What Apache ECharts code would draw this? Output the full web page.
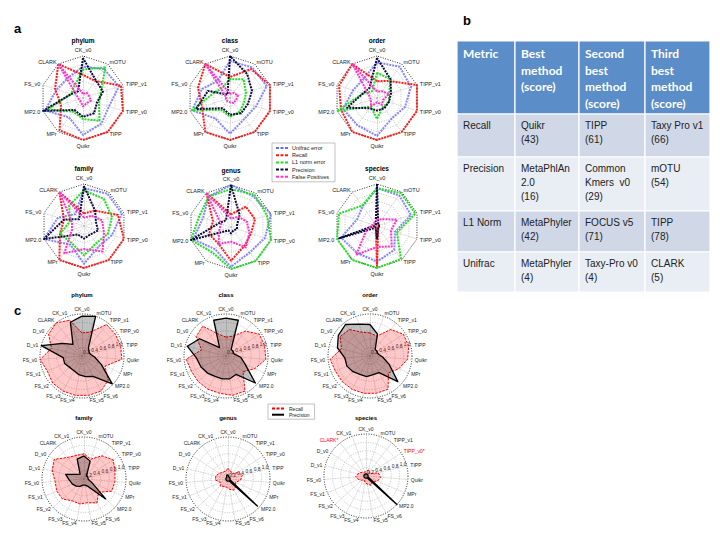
<!DOCTYPE html>
<html><head><meta charset="utf-8">
<script src="https://cdn.jsdelivr.net/npm/echarts@6/dist/echarts.min.js"></script>
<style>html,body{margin:0;padding:0;background:#fff}#chart{width:720px;height:540px}</style>
</head><body><div id="chart"></div>
<script>
// ---------------- DATA ----------------
const ranks = ['phylum','class','order','family','genus','species'];

// Panel a: axes listed clockwise from the top
const axesA = ['CK_v0','mOTU','TIPP_v1','TIPP_v0','TIPP','Quikr','MPr','MP2.0','FS_v0','CLARK'];
const metricNamesA = ['Unifrac error','Recall','L1 norm error','Precision','False Positives'];
const metricColorsA = ['#6666ff','#ff1a1a','#22dd22','#0a0a3c','#ff33cc'];

// one row per rank (phylum..species), values per axis in axesA order
const unifracErr = [
  [0.75,0.85,0.90,0.65,0.75,0.88,0.57,0.95,0.66,0.60],
  [0.88,0.90,0.92,0.65,0.60,0.85,0.60,0.95,0.70,0.50],
  [0.85,0.92,0.85,0.70,0.60,0.90,0.80,0.85,0.60,0.55],
  [0.90,0.95,0.95,0.70,0.60,0.90,0.55,1.00,0.65,0.35],
  [1.00,0.90,1.00,0.85,0.75,0.95,0.65,0.95,0.70,0.90],
  [0.90,0.90,0.85,0.45,0.70,0.85,0.80,0.90,0.50,0.58]
];
const recallA = [
  [0.55,0.50,0.95,1.00,1.00,1.00,0.95,0.55,0.70,1.00],
  [0.50,0.85,1.00,1.00,1.00,1.00,1.00,0.70,0.80,1.00],
  [0.40,0.50,1.00,1.00,1.00,1.00,1.00,0.90,0.95,1.00],
  [0.30,0.45,0.85,1.00,1.00,1.00,1.00,0.60,0.50,1.00],
  [0.30,0.60,0.60,0.50,0.55,0.80,0.50,0.55,0.45,1.00],
  [0.05,0.05,0.05,0.05,0.05,0.95,0.05,0.05,0.05,0.05]
];
const l1NormErr = [
  [0.68,0.90,0.45,0.40,0.67,0.50,0.40,0.90,0.30,0.35],
  [0.45,0.55,0.40,0.35,0.40,0.45,0.35,0.95,0.40,0.30],
  [0.60,0.55,0.30,0.30,0.25,0.50,0.25,1.00,0.35,0.20],
  [0.85,0.80,0.70,0.60,0.50,0.70,0.50,0.60,0.35,0.60],
  [0.90,0.95,0.90,1.00,1.00,1.00,0.75,1.00,0.80,0.90],
  [0.90,0.97,0.96,0.50,0.97,1.00,1.00,1.00,0.95,0.60]
];
const precisionA = [
  [0.95,0.52,0.50,0.35,0.45,0.45,0.35,1.00,0.30,0.20],
  [1.00,0.70,0.55,0.45,0.45,0.40,0.30,0.85,0.55,0.10],
  [0.95,0.55,0.35,0.30,0.30,0.30,0.30,0.75,0.35,0.30],
  [0.95,0.45,0.30,0.35,0.25,0.30,0.25,1.00,0.50,0.20],
  [1.00,0.35,0.15,0.15,0.10,0.15,0.10,1.00,0.30,0.20],
  [1.00,0.05,0.05,0.05,0.05,0.30,0.05,0.95,0.05,0.05]
];
const falsePosA = [
  [0.10,0.15,0.15,0.20,0.15,0.20,0.10,0.10,0.15,1.00],
  [0.10,0.15,0.20,0.15,0.15,0.10,0.10,0.10,0.10,1.00],
  [0.15,0.20,0.30,0.15,0.20,0.10,0.25,0.15,0.20,1.00],
  [0.20,0.30,0.45,0.50,0.75,0.55,0.80,0.30,0.30,1.00],
  [0.20,0.30,0.40,0.46,0.60,0.35,0.50,0.30,0.25,1.00],
  [0.15,0.20,0.50,0.35,0.60,0.50,0.85,0.25,0.10,0.10]
];

// Panel c: axes listed clockwise from the top
const axesC = ['CK_v0','mOTU','TIPP_v1','TIPP_v0','TIPP','Quikr','MPr','MP2.0','FS_v6','FS_v5','FS_v4','FS_v3','FS_v2','FS_v1','FS_v0','D_v1','D_v0','CLARK','CK_v1'];
const flaggedSpeciesC = ['CLARK','TIPP_v0'];
const radialTicksC = ['0.2','0.4','0.6','0.8','1.0'];
const recallC = [
  [0.55,0.60,0.95,0.95,0.95,0.95,0.60,0.85,0.95,0.95,0.95,0.95,0.95,0.90,1.00,0.75,0.95,1.00,0.90],
  [0.45,0.50,0.75,0.95,0.95,0.95,0.75,0.55,0.95,0.95,0.90,0.90,0.90,0.90,0.95,0.60,0.85,0.90,0.55],
  [0.55,0.50,0.80,0.95,0.95,0.90,0.75,0.60,0.90,0.90,0.90,0.90,0.90,0.90,0.95,0.70,0.85,0.80,0.60],
  [0.60,0.50,0.70,0.83,0.76,0.74,0.72,0.47,0.65,0.57,0.60,0.59,0.70,0.71,0.69,0.78,0.85,0.65,0.59],
  [0.25,0.20,0.15,0.30,0.35,0.30,0.20,0.25,0.30,0.25,0.20,0.20,0.25,0.20,0.30,0.30,0.25,0.20,0.20],
  [0.10,0.15,0.15,0.10,0.30,0.35,0.30,0.20,0.25,0.20,0.15,0.10,0.15,0.20,0.25,0.20,0.15,0.10,0.10]
];
const precisionC = [
  [0.95,1.00,0.25,0.20,0.20,0.30,0.50,0.98,0.55,0.50,0.45,0.40,0.40,0.45,0.45,1.00,0.55,0.35,0.85],
  [0.90,0.90,0.20,0.20,0.20,0.35,0.50,0.95,0.50,0.55,0.55,0.55,0.60,0.65,0.70,0.95,0.75,0.25,0.90],
  [0.75,0.55,0.20,0.20,0.20,0.30,0.50,0.90,0.45,0.45,0.50,0.50,0.55,0.60,0.60,0.80,0.90,0.95,0.80],
  [0.55,0.45,0.10,0.10,0.10,0.10,0.20,0.70,0.20,0.15,0.15,0.20,0.25,0.30,0.35,0.45,0.20,0.15,0.50],
  [0.10,0.05,0.05,0.05,0.05,0.05,0.05,0.95,0.05,0.05,0.05,0.05,0.05,0.05,0.05,0.05,0.05,0.05,0.10],
  [0.05,0.05,0.05,0.05,0.05,0.05,0.05,1.00,0.05,0.05,0.05,0.05,0.05,0.05,0.05,0.05,0.05,0.05,0.05]
];

// Panel b table
const tableHeader = ['Metric','Best\nmethod\n(score)','Second\nbest\nmethod\n(score)','Third\nbest\nmethod\n(score)'];
const tableMetrics = ['Recall','Precision','L1 Norm','Unifrac'];
const tableBest = ['Quikr\n(43)','MetaPhlAn\n2.0\n(16)','MetaPhyler\n(42)','MetaPhyler\n(4)'];
const tableSecond = ['TIPP\n(61)','Common\nKmers  v0\n(29)','FOCUS v5\n(71)','Taxy-Pro v0\n(4)'];
const tableThird = ['Taxy Pro v1\n(66)','mOTU\n(54)','TIPP\n(78)','CLARK\n(5)'];

// ---------------- LAYOUT ----------------
const centersA = [[83,98],[230,98],[377,98],[84,226],[231,227],[377,226]];
const titleYA = [37,37,37,165,167,165];
const centersC = [[82,356],[226,356],[370,356],[84,479],[228,479],[366,476]];
const titleYC = [292,292,292,415,415,415];
const colX = [457,515,579,645,710];
const rowY = [41,114,157,211,252,292];
const rowFill = ['#d0d8e8','#e9edf4','#d0d8e8','#e9edf4'];
const FONT = 'Liberation Sans, Arial, sans-serif';

// ECharts lays radar indicators out counter-clockwise; reorder so they run clockwise
const cw = arr => [arr[0]].concat(arr.slice(1).reverse());

const metricsA = [unifracErr, recallA, l1NormErr, precisionA, falsePosA];
const dashIcon = 'path://M0,0h3v2h-3zM4.5,0h3v2h-3zM9,0h3v2h-3z';

const radars = [];
const series = [];
const titles = [];

ranks.forEach((rk, r) => {
  radars.push({
    center: centersA[r], radius: 42, shape: 'polygon', startAngle: 90, splitNumber: 5,
    indicator: cw(axesA.map(n => ({ name: n, min: 0, max: 1 }))),
    axisName: { color: '#222', fontSize: 5.5, fontFamily: FONT },
    nameGap: 3,
    splitLine: { lineStyle: { color: ['#bbb','#bbb','#bbb','#bbb','#bbb','#111'], type: [1,1.5], width: 0.9 } },
    splitArea: { show: false },
    axisLine: { lineStyle: { color: '#bbb', type: [1,1.5], width: 0.6 } },
    axisTick: { show: false }, axisLabel: { show: false }
  });
  titles.push({ text: rk, left: centersA[r][0], top: titleYA[r], textAlign: 'center', padding: 0,
    textStyle: { fontSize: 6.5, fontWeight: 'bold', fontFamily: FONT, color: '#000' } });
});

ranks.forEach((rk, r) => {
  const isSpecies = rk === 'species';
  radars.push({
    center: centersC[r], radius: 42, shape: 'circle', startAngle: 90, splitNumber: 5,
    indicator: cw(axesC.map(n => {
      const flagged = isSpecies && flaggedSpeciesC.includes(n);
      const ind = { name: flagged ? n + '*' : n, min: 0, max: 1 };
      if (flagged) ind.color = '#ff0000';
      if (n === 'TIPP') ind.axisLabel = { show: true, fontSize: 4.8, color: '#222', margin: 1, showMinLabel: false,
        fontFamily: FONT, formatter: (v) => radialTicksC[Math.round(v * 5) - 1] || '' };
      return ind;
    })),
    axisName: { color: '#222', fontSize: 5, fontFamily: FONT },
    nameGap: 3,
    splitLine: { lineStyle: { color: ['#bbb','#bbb','#bbb','#bbb','#bbb','#111'], type: [1,1.5], width: 0.9 } },
    splitArea: { show: false },
    axisLine: { lineStyle: { color: '#bbb', type: [1,1.5], width: 0.6 } },
    axisTick: { show: false }, axisLabel: { show: false }
  });
  titles.push({ text: rk, left: centersC[r][0], top: titleYC[r], textAlign: 'center', padding: 0,
    textStyle: { fontSize: 6, fontWeight: 'bold', fontFamily: FONT, color: '#000' } });
});

ranks.forEach((rk, r) => {
  series.push({
    type: 'radar', radarIndex: r, symbol: 'none', silent: true,
    data: metricsA.map((m, k) => ({
      name: metricNamesA[k], value: cw(m[r]),
      itemStyle: { color: metricColorsA[k] },
      lineStyle: { color: metricColorsA[k], width: 2, type: [2, 1], opacity: k === 0 ? 0.8 : 1 }
    }))
  });
});
ranks.forEach((rk, r) => {
  series.push({
    type: 'radar', radarIndex: 6 + r, symbol: 'none', silent: true,
    data: [
      { name: 'c:Recall', value: cw(recallC[r]), itemStyle: { color: '#ff0000' },
        lineStyle: { color: '#ff0000', width: 1, type: [2.5, 1.2] }, areaStyle: { color: 'rgba(255,0,0,0.3)' } },
      { name: 'c:Precision', value: cw(precisionC[r]), itemStyle: { color: '#000' },
        lineStyle: { color: '#000', width: 1.3 }, areaStyle: { color: 'rgba(0,0,0,0.35)' } }
    ]
  });
});

// panel letters
[['a',14,22],['b',463,14],['c',14,304]].forEach(([t,x,y]) => titles.push({
  text: t, left: x, top: y, padding: 0, textStyle: { fontSize: 13, fontWeight: 'bold', fontFamily: FONT, color: '#000' } }));

// table graphics
const graphics = [];
const cellRows = [tableHeader].concat(tableMetrics.map((m, i) => [m, tableBest[i], tableSecond[i], tableThird[i]]));
cellRows.forEach((row, i) => {
  row.forEach((txt, j) => {
    graphics.push({ type: 'rect', silent: true,
      shape: { x: colX[j], y: rowY[i], width: colX[j+1] - colX[j], height: rowY[i+1] - rowY[i] },
      style: { fill: i === 0 ? '#5b8dc8' : rowFill[i-1], stroke: '#fff', lineWidth: 1.2 } });
    graphics.push({ type: 'text', silent: true, x: colX[j] + 6, y: rowY[i] + 4,
      style: i === 0
        ? { text: txt, fill: '#fff', fontSize: 12, fontWeight: 'bold', fontFamily: 'Lato, Open Sans, sans-serif', lineHeight: 16.7, verticalAlign: 'top' }
        : { text: txt, fill: '#222', fontSize: 10, fontFamily: FONT, lineHeight: 14, verticalAlign: 'top' } });
  });
});

const option = {
  animation: false,
  backgroundColor: '#fff',
  title: titles,
  radar: radars,
  legend: [
    { data: metricNamesA.map(n => ({ name: n, icon: dashIcon })), orient: 'vertical', left: 272, top: 143,
      itemWidth: 12, itemHeight: 2, itemGap: 1.2, padding: [2, 6, 2, 4], selectedMode: false,
      borderColor: '#999', borderWidth: 0.6, itemStyle: { borderWidth: 0 },
      textStyle: { fontSize: 5.5, fontFamily: FONT, color: '#222', padding: [0,0,0,-1] } },
    { data: [{ name: 'c:Recall', icon: dashIcon }, { name: 'c:Precision', icon: 'rect' }], orient: 'vertical', left: 268, top: 404,
      itemWidth: 12, itemHeight: 2, itemGap: 1.2, padding: [2, 5, 2, 4], selectedMode: false,
      borderColor: '#999', borderWidth: 0.6, itemStyle: { borderWidth: 0 },
      formatter: n => n.replace('c:', ''),
      textStyle: { fontSize: 5, fontFamily: FONT, color: '#222' } }
  ],
  graphic: graphics,
  series: series
};

const chart = echarts.init(document.getElementById('chart'), null, { renderer: 'svg' });
chart.setOption(option);
</script></body></html>
